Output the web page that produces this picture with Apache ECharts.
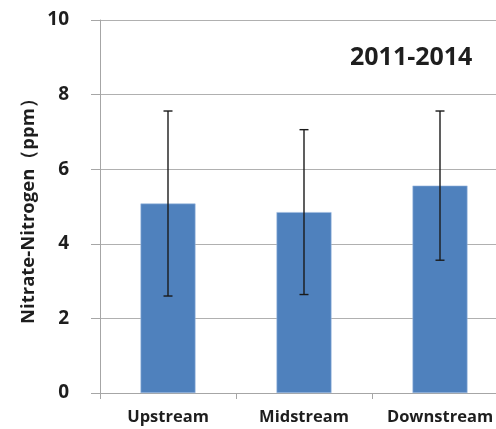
<!DOCTYPE html>
<html>
<head>
<meta charset="utf-8">
<script src="https://cdn.jsdelivr.net/npm/echarts@6/dist/echarts.min.js"></script>
<style>
  html, body { margin: 0; padding: 0; background: #fff; }
  #chart { width: 496px; height: 429px; }
</style>
</head>
<body>
<div id="chart"></div>
<script>
// Mean nitrate-nitrogen by river reach, 2011-2014, with standard deviation
const categories = ['Upstream', 'Midstream', 'Downstream'];
const means = [5.08, 4.85, 5.56];
const stdDevs = [2.48, 2.21, 2.0];
const yTicks = [0, 2, 4, 6, 8, 10];

const FONT = '"Open Sans", "Liberation Sans", sans-serif';
const TEXT = '#1e1e1e';

const errorData = categories.map((c, i) => [i, means[i] - stdDevs[i], means[i] + stdDevs[i]]);

const chart = echarts.init(document.getElementById('chart'));
chart.setOption({
  animation: false,
  title: {
    text: '2011-2014',
    left: 345,
    top: 40,
    textStyle: { fontFamily: FONT, fontSize: 25, fontWeight: 'bold', color: TEXT }
  },
  grid: { left: 100, top: 20, width: 408, height: 373, outerBoundsMode: 'none', containLabel: false },
  xAxis: {
    type: 'category',
    data: categories,
    axisLine: { lineStyle: { color: '#a6a6a6', width: 1 } },
    axisTick: { show: true, length: 6, lineStyle: { color: '#a6a6a6' } },
    axisLabel: {
      interval: 0, hideOverlap: false, margin: 16,
      fontFamily: FONT, fontSize: 16.5, fontWeight: 'bold', color: TEXT
    }
  },
  yAxis: {
    type: 'value',
    min: yTicks[0],
    max: yTicks[yTicks.length - 1],
    interval: 2,
    name: 'Nitrate-Nitrogen（ppm）',
    nameLocation: 'middle',
    nameGap: 62,
    nameMoveOverlap: false,
    nameTextStyle: { fontFamily: FONT, fontSize: 18.5, fontWeight: 'bold', color: TEXT },
    axisLine: { show: true, lineStyle: { color: '#a6a6a6', width: 1 } },
    axisTick: { show: true, length: 9, lineStyle: { color: '#a6a6a6' } },
    axisLabel: { margin: 31, fontFamily: FONT, fontSize: 19, fontWeight: 'bold', color: TEXT },
    splitLine: { lineStyle: { color: '#b0b0b0', width: 1 } }
  },
  series: [
    {
      type: 'bar',
      data: means,
      barWidth: 55,
      itemStyle: { color: '#4f81bd', borderColor: '#9dbbe0', borderWidth: 0.6 }
    },
    {
      type: 'custom',
      data: errorData,
      z: 10,
      renderItem: function (params, api) {
        const x = api.value(0);
        const lo = api.coord([x, api.value(1)]);
        const hi = api.coord([x, api.value(2)]);
        const cap = 4.5;
        const style = { stroke: '#1a1a1a', lineWidth: 1.4 };
        return {
          type: 'group',
          children: [
            { type: 'line', shape: { x1: hi[0], y1: hi[1], x2: lo[0], y2: lo[1] }, style: style },
            { type: 'line', shape: { x1: hi[0] - cap, y1: hi[1], x2: hi[0] + cap, y2: hi[1] }, style: style },
            { type: 'line', shape: { x1: lo[0] - cap, y1: lo[1], x2: lo[0] + cap, y2: lo[1] }, style: style }
          ]
        };
      }
    }
  ]
});
</script>
</body>
</html>
